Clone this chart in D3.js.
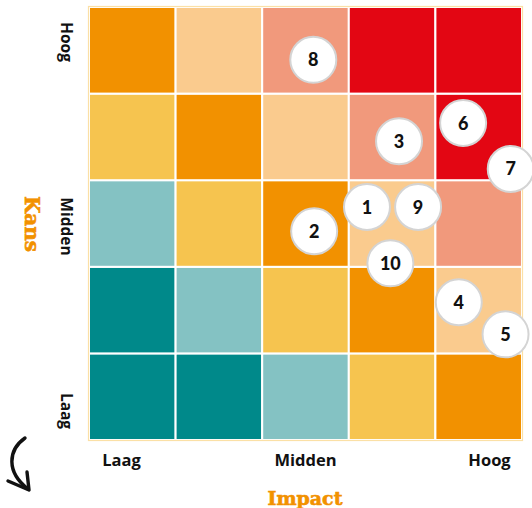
<!DOCTYPE html>
<html><head><meta charset="utf-8">
<script src="https://cdn.jsdelivr.net/npm/d3@7"></script>
<style>
html,body{margin:0;padding:0;background:#fff;}
svg{display:block;}
</style></head>
<body>
<svg id="chart" width="532" height="508"></svg>
<script>
// ---- data ----
const levelLabels = ["Laag", "Midden", "Hoog"];
const impactCols = [0, 1, 2, 3, 4];
const kansRows = [0, 1, 2, 3, 4]; // 0 = Laag (bottom), 4 = Hoog (top)
// risk class per cell, rows from Laag (bottom) to Hoog (top)
const cellClass = [
  ["teal", "teal", "lightteal", "yellow", "orange"],
  ["teal", "lightteal", "yellow", "orange", "lightorange"],
  ["lightteal", "yellow", "orange", "lightorange", "salmon"],
  ["yellow", "orange", "lightorange", "salmon", "red"],
  ["orange", "lightorange", "salmon", "red", "red"]
];
const riskIds = [8, 3, 6, 7, 1, 9, 2, 10, 4, 5];
const riskImpact = [2.59, 3.58, 4.32, 4.87, 3.21, 3.80, 2.60, 3.48, 4.27, 4.81];
const riskKans = [4.39, 3.45, 3.66, 3.13, 2.69, 2.69, 2.41, 2.04, 1.59, 1.22];

const palette = {
  teal: "#00898a", lightteal: "#84c2c3", yellow: "#f6c44f",
  orange: "#f29100", lightorange: "#facb8e", salmon: "#f1997c", red: "#e30613"
};

// ---- layout ----
const svg = d3.select("#chart");
const gL = 89, gR = 522, gT = 7, gB = 440;

const xBand = d3.scaleBand().domain(impactCols).range([gL, gR]);
const yBand = d3.scaleBand().domain(kansRows).range([gB, gT]);
const x = d3.scaleLinear().domain([0, 5]).range([gL, gR]);
const y = d3.scaleLinear().domain([0, 5]).range([gB, gT]);

const cells = [];
kansRows.forEach(r => impactCols.forEach(c => cells.push({r, c, k: cellClass[r][c]})));

svg.append("g").selectAll("rect").data(cells).join("rect")
  .attr("x", d => xBand(d.c))
  .attr("y", d => yBand(d.r))
  .attr("width", xBand.bandwidth())
  .attr("height", yBand.bandwidth())
  .attr("fill", d => palette[d.k])
  .attr("stroke", "#fff")
  .attr("stroke-width", 2);

svg.append("rect")
  .attr("x", gL - 0.5).attr("y", gT - 0.5)
  .attr("width", gR - gL + 1).attr("height", gB - gT + 1)
  .attr("fill", "none").attr("stroke", "#fbe0a6").attr("stroke-width", 1.2);

// risks
const risks = riskIds.map((id, i) => ({id, ix: riskImpact[i], k: riskKans[i]}));
const g = svg.append("g").selectAll("g").data(risks).join("g")
  .attr("transform", d => `translate(${x(d.ix)},${y(d.k)})`);
g.append("circle").attr("r", 23).attr("fill", "#fff")
  .attr("stroke", "#d4d4d4").attr("stroke-width", 2);
g.append("text").text(d => d.id)
  .attr("text-anchor", "middle").attr("dy", "0.36em")
  .style("font-family", "Lato, sans-serif").style("font-weight", 900)
  .style("font-size", "18px").attr("fill", "#111");

// x axis labels
const xPoint = d3.scalePoint().domain(levelLabels).range([121, 489]);
const xAxis = svg.append("g").attr("transform", "translate(0,454)")
  .call(d3.axisBottom(xPoint).tickSize(0).tickPadding(0));
xAxis.select(".domain").remove();
xAxis.selectAll("text")
  .style("font-family", "'Open Sans', sans-serif").style("font-weight", 700)
  .style("font-size", "16.5px").attr("fill", "#111").attr("dy", "0.71em");

// y axis labels (rotated)
const yPoint = d3.scalePoint().domain(levelLabels).range([411, 42]);
svg.append("g").selectAll("text").data(levelLabels).join("text")
  .attr("transform", d => `translate(61,${yPoint(d)}) rotate(90)`)
  .attr("text-anchor", "middle")
  .text(d => d)
  .style("font-family", "'Open Sans', sans-serif").style("font-weight", 700)
  .style("font-size", "15.5px").attr("fill", "#111");

// titles
svg.append("text").attr("transform", "translate(25,224) rotate(90)")
  .attr("text-anchor", "middle").text("Kans")
  .style("font-family", "'DejaVu Serif', serif").style("font-weight", 700)
  .style("font-size", "20px").attr("fill", "#f29100")
  .attr("stroke", "#f29100").attr("stroke-width", 0.6);
svg.append("text").attr("transform", "translate(305,505)")
  .attr("text-anchor", "middle").text("Impact")
  .style("font-family", "'DejaVu Serif', serif").style("font-weight", 700)
  .style("font-size", "19px").attr("fill", "#f29100")
  .attr("stroke", "#f29100").attr("stroke-width", 0.6);

// curved arrow
svg.append("path")
  .attr("d", "M25,438 C8,450 6,472 28,489")
  .attr("fill", "none").attr("stroke", "#111").attr("stroke-width", 3.4)
  .attr("stroke-linecap", "round");
svg.append("path")
  .attr("d", "M8,481 L29,490 L27,472")
  .attr("fill", "none").attr("stroke", "#111").attr("stroke-width", 3.4)
  .attr("stroke-linecap", "round").attr("stroke-linejoin", "round");
</script>
</body></html>
